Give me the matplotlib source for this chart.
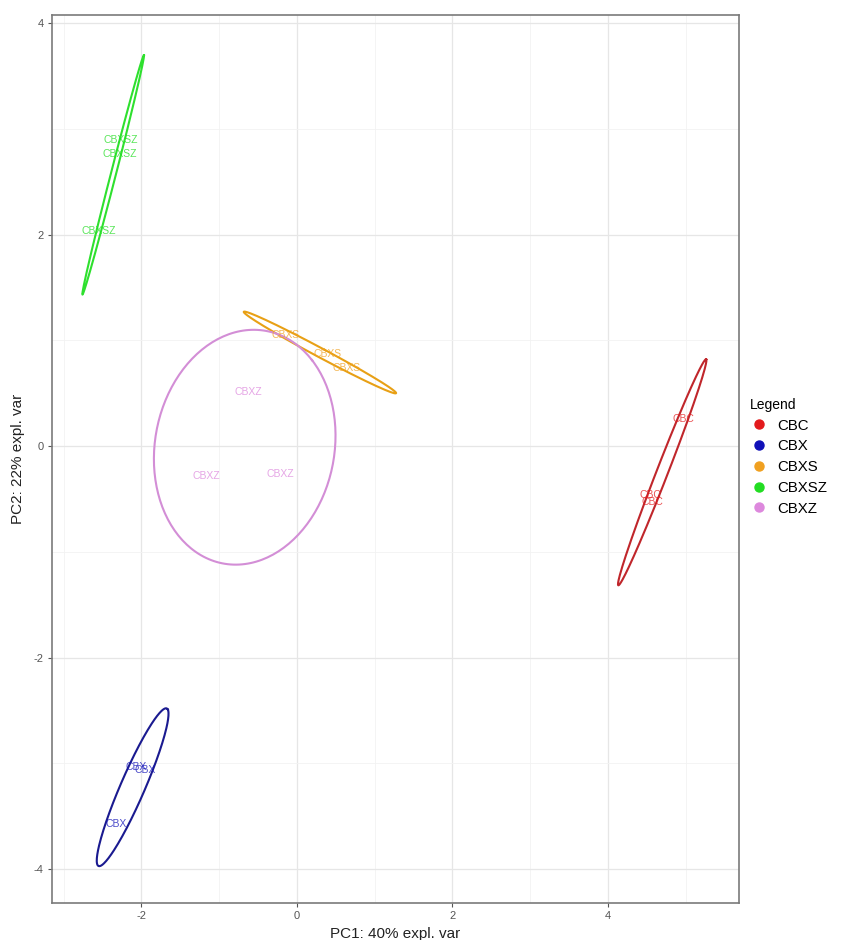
import numpy as np
import matplotlib
matplotlib.use("Agg")
import matplotlib.pyplot as plt
from matplotlib.lines import Line2D

plt.rcParams['font.family'] = ['Liberation Sans', 'DejaVu Sans']
plt.rcParams['axes.unicode_minus'] = False

# ---- data (sample scores on PC1 / PC2) ----
groups = ["CBC", "CBX", "CBXS", "CBXSZ", "CBXZ"]
colors = ["#e31a1c", "#1010b8", "#f0a020", "#22dd22", "#dd88dd"]
edge_colors = ["#c0262b", "#1a1a90", "#e8a015", "#2ee02e", "#d38ed6"]

cbc_pc1 = [4.965, 4.549, 4.578]
cbc_pc2 = [0.255, -0.466, -0.532]
cbx_pc1 = [-2.071, -1.949, -2.319]
cbx_pc2 = [-3.035, -3.064, -3.577]
cbxs_pc1 = [-0.144, 0.392, 0.639]
cbxs_pc2 = [1.050, 0.870, 0.735]
cbxsz_pc1 = [-2.26, -2.28, -2.55]
cbxsz_pc2 = [2.896, 2.76, 2.036]
cbxz_pc1 = [-0.626, -1.17, -0.219]
cbxz_pc2 = [0.513, -0.28, -0.265]

pc1 = [cbc_pc1, cbx_pc1, cbxs_pc1, cbxsz_pc1, cbxz_pc1]
pc2 = [cbc_pc2, cbx_pc2, cbxs_pc2, cbxsz_pc2, cbxz_pc2]

x_ticks = [-2, 0, 2, 4]
y_ticks = [-4, -2, 0, 2, 4]
x_label = "PC1: 40% expl. var"
y_label = "PC2: 22% expl. var"
legend_title = "Legend"
level = 0.95


def conf_ellipse(x, y, level=0.95, n=200):
    x = np.asarray(x, float)
    y = np.asarray(y, float)
    cov = np.cov(np.vstack([x, y]))
    t = np.sqrt(-2.0 * np.log(1.0 - level))  # sqrt(qchisq(level, 2))
    sx, sy = np.sqrt(cov[0, 0]), np.sqrt(cov[1, 1])
    r = cov[0, 1] / (sx * sy)
    d = np.arccos(np.clip(r, -1, 1))
    a = np.linspace(0, 2 * np.pi, n)
    ex = t * sx * np.cos(a + d / 2) + x.mean()
    ey = t * sy * np.cos(a - d / 2) + y.mean()
    return ex, ey


fig = plt.figure(figsize=(8.49, 9.40), dpi=100)
ax = fig.add_axes([52 / 849, 37 / 940, (739 - 52) / 849, (903 - 15) / 940])

ax.set_xlim(-3.15, 5.685)
ax.set_ylim(-4.32, 4.076)

# grid
ax.set_xticks(x_ticks)
ax.set_yticks(y_ticks)
ax.set_xticks([-3, -1, 1, 3, 5], minor=True)
ax.set_yticks([-3, -1, 1, 3], minor=True)
ax.grid(True, which="major", color="#e6e6e6", linewidth=0.9)
ax.grid(True, which="minor", color="#f2f2f2", linewidth=0.6)
ax.set_axisbelow(True)
ax.tick_params(which="minor", length=0)
ax.tick_params(which="major", length=3, color="#555555", labelcolor="#555555",
               labelsize=8, width=0.8, pad=3)
for s in ax.spines.values():
    s.set_color("#7a7a7a")
    s.set_linewidth(1.2)

for g, xs, ys, c, ec in zip(groups, pc1, pc2, colors, edge_colors):
    ex, ey = conf_ellipse(xs, ys, level)
    ax.plot(ex, ey, color=ec, linewidth=1.5, zorder=3)
    for xv, yv in zip(xs, ys):
        ax.text(xv, yv, g, color=c, fontsize=7.5, ha="center", va="center",
                alpha=0.75, zorder=4)

ax.set_xlabel(x_label, fontsize=11, color="#222222", labelpad=4)
ax.set_ylabel(y_label, fontsize=11, color="#222222", labelpad=6)

handles = [Line2D([0], [0], marker="o", linestyle="", markersize=6.5,
                  markerfacecolor=c, markeredgecolor=c) for c in colors]
leg = fig.legend(handles, groups, title=legend_title, loc="upper left",
                 bbox_to_anchor=(744 / 849, 1 - 392 / 940), frameon=False,
                 fontsize=10.8, title_fontsize=10, handletextpad=0.6,
                 labelspacing=0.45, handlelength=1.2, borderaxespad=0)
leg._legend_box.align = "left"

fig.savefig("out.png", dpi=100)
